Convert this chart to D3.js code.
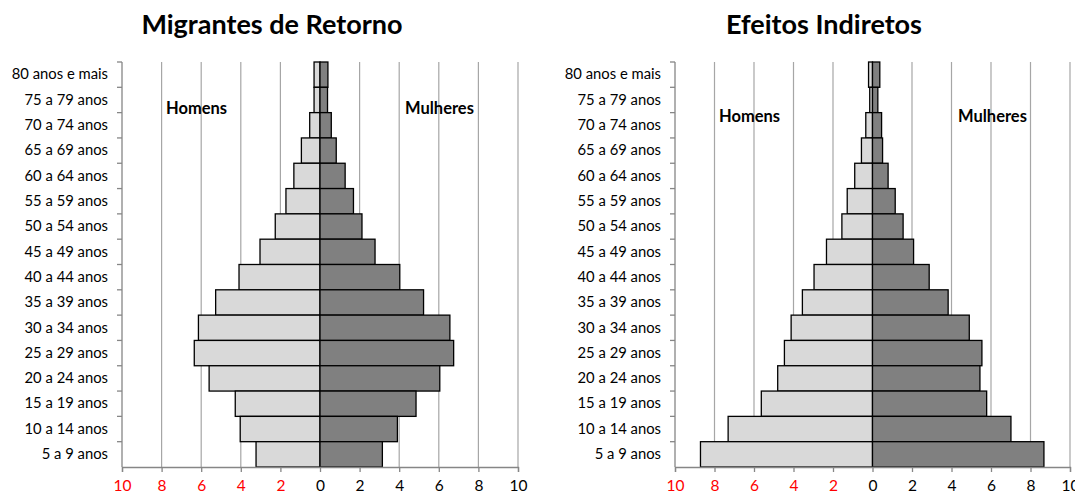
<!DOCTYPE html>
<html>
<head>
<meta charset="utf-8">
<script src="https://cdn.jsdelivr.net/npm/d3@7"></script>
<style>
  body { margin: 0; background: #fff; }
  svg { display: block; }
  text { font-family: Lato, "Open Sans", sans-serif; }
</style>
</head>
<body>
<div id="chart"></div>
<script>
// Age groups, top to bottom
var ageGroups = ["80 anos e mais", "75 a 79 anos", "70 a 74 anos", "65 a 69 anos",
  "60 a 64 anos", "55 a 59 anos", "50 a 54 anos", "45 a 49 anos", "40 a 44 anos",
  "35 a 39 anos", "30 a 34 anos", "25 a 29 anos", "20 a 24 anos", "15 a 19 anos",
  "10 a 14 anos", "5 a 9 anos"];

// Migrantes de Retorno (%)
var retornoHomens   = [0.30, 0.30, 0.52, 0.94, 1.32, 1.72, 2.26, 3.03, 4.09, 5.27, 6.14, 6.35, 5.60, 4.28, 4.03, 3.23];
var retornoMulheres = [0.40, 0.38, 0.57, 0.82, 1.27, 1.69, 2.12, 2.78, 4.03, 5.23, 6.56, 6.75, 6.05, 4.85, 3.91, 3.15];

// Efeitos Indiretos (%)
var indiretosHomens   = [0.20, 0.14, 0.34, 0.56, 0.90, 1.28, 1.55, 2.33, 2.96, 3.55, 4.12, 4.46, 4.80, 5.63, 7.31, 8.71];
var indiretosMulheres = [0.37, 0.27, 0.46, 0.51, 0.79, 1.15, 1.55, 2.08, 2.87, 3.83, 4.90, 5.54, 5.44, 5.78, 7.01, 8.68];

var xTicks = [-10, -8, -6, -4, -2, 0, 2, 4, 6, 8, 10];

var width = 1075, height = 496;

var svg = d3.select("#chart")
  .append("svg")
  .attr("width", width)
  .attr("height", height);

// Draw one pyramid panel
function drawPyramid(opts) {
  var men = opts.men, women = opts.women;

  var x = d3.scaleLinear()
    .domain([-10, 10])
    .range([opts.left, opts.right]);

  var y = d3.scaleBand()
    .domain(ageGroups)
    .range([opts.top, opts.bottom])
    .padding(0);

  var g = svg.append("g");

  // Title
  g.append("text")
    .attr("x", opts.titleX)
    .attr("y", 34)
    .attr("text-anchor", "middle")
    .attr("font-size", "27px")
    .attr("font-weight", "bold")
    .attr("fill", "#000")
    .text(opts.title);

  // Vertical gridlines
  g.selectAll(".grid")
    .data(xTicks.filter(function(d) { return d > -10; }))
    .enter()
    .append("line")
    .attr("class", "grid")
    .attr("x1", function(d) { return x(d); })
    .attr("x2", function(d) { return x(d); })
    .attr("y1", opts.top)
    .attr("y2", opts.bottom)
    .attr("stroke", "#a6a6a6")
    .attr("stroke-width", 1.2);

  // Men bars (left side)
  g.selectAll(".men")
    .data(ageGroups)
    .enter()
    .append("rect")
    .attr("class", "men")
    .attr("x", function(d, i) { return x(-men[i]); })
    .attr("y", function(d) { return y(d); })
    .attr("width", function(d, i) { return x(0) - x(-men[i]); })
    .attr("height", y.bandwidth())
    .attr("fill", "#d9d9d9")
    .attr("stroke", "#000")
    .attr("stroke-width", 1.3);

  // Women bars (right side)
  g.selectAll(".women")
    .data(ageGroups)
    .enter()
    .append("rect")
    .attr("class", "women")
    .attr("x", x(0))
    .attr("y", function(d) { return y(d); })
    .attr("width", function(d, i) { return x(women[i]) - x(0); })
    .attr("height", y.bandwidth())
    .attr("fill", "#808080")
    .attr("stroke", "#000")
    .attr("stroke-width", 1.3);

  // X axis
  var xAxis = g.append("g")
    .attr("transform", "translate(0," + opts.bottom + ")")
    .call(d3.axisBottom(x)
      .tickValues(xTicks)
      .tickSize(5)
      .tickPadding(8)
      .tickFormat(function(d) { return Math.abs(d); }));
  xAxis.select(".domain").attr("stroke", "#868686").attr("stroke-width", 1.3);
  xAxis.selectAll(".tick line").attr("stroke", "#868686").attr("stroke-width", 1.3);
  xAxis.selectAll(".tick text")
    .attr("font-size", "15.5px")
    .attr("fill", function(d) { return d < 0 ? "#ff0000" : "#000"; });

  // Y axis line with ticks at band edges
  g.append("line")
    .attr("x1", opts.left).attr("x2", opts.left)
    .attr("y1", opts.top).attr("y2", opts.bottom)
    .attr("stroke", "#868686")
    .attr("stroke-width", 1.3);
  g.selectAll(".ytick")
    .data(ageGroups)
    .enter()
    .append("line")
    .attr("class", "ytick")
    .attr("x1", opts.left - 5)
    .attr("x2", opts.left)
    .attr("y1", function(d) { return y(d); })
    .attr("y2", function(d) { return y(d); })
    .attr("stroke", "#868686")
    .attr("stroke-width", 1.3);

  // Category labels
  var yAxis = g.append("g")
    .attr("transform", "translate(" + opts.left + ",0)")
    .call(d3.axisLeft(y).tickSize(0).tickPadding(opts.labelPad));
  yAxis.select(".domain").remove();
  yAxis.selectAll(".tick text")
    .attr("font-size", "14.8px")
    .attr("fill", "#000");

  // Homens / Mulheres labels
  g.append("text")
    .attr("x", opts.homensX)
    .attr("y", opts.sexY)
    .attr("font-size", "16.5px")
    .attr("font-weight", "bold")
    .text("Homens");
  g.append("text")
    .attr("x", opts.mulheresX)
    .attr("y", opts.sexY)
    .attr("font-size", "16.5px")
    .attr("font-weight", "bold")
    .text("Mulheres");
}

drawPyramid({
  title: "Migrantes de Retorno",
  titleX: 272,
  men: retornoHomens,
  women: retornoMulheres,
  left: 122, right: 518, top: 62, bottom: 467,
  labelPad: 14,
  homensX: 166, mulheresX: 405, sexY: 114
});

drawPyramid({
  title: "Efeitos Indiretos",
  titleX: 824,
  men: indiretosHomens,
  women: indiretosMulheres,
  left: 675, right: 1070, top: 62, bottom: 467,
  labelPad: 14,
  homensX: 719, mulheresX: 958, sexY: 122
});
</script>
</body>
</html>
